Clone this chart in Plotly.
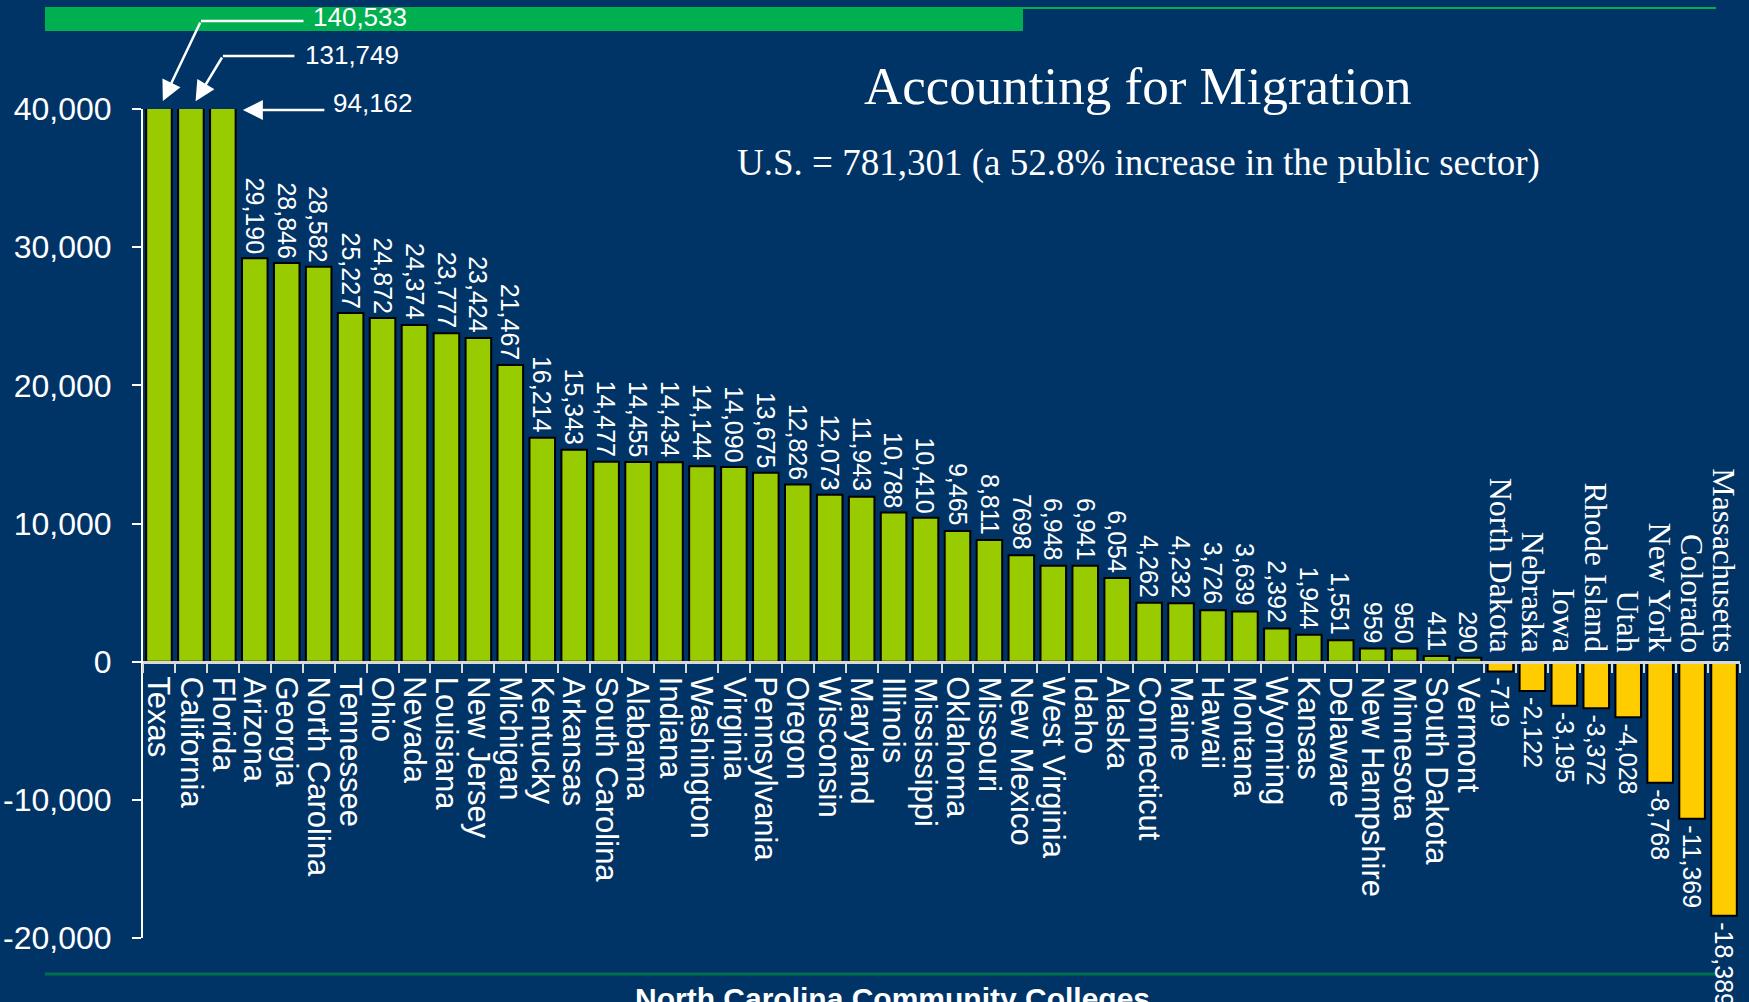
import plotly.graph_objects as go

# data
states = [
    "Texas", "California", "Florida", "Arizona", "Georgia", "North Carolina",
    "Tennessee", "Ohio", "Nevada", "Louisiana", "New Jersey", "Michigan",
    "Kentucky", "Arkansas", "South Carolina", "Alabama", "Indiana", "Washington",
    "Virginia", "Pennsylvania", "Oregon", "Wisconsin", "Maryland", "Illinois",
    "Mississippi", "Oklahoma", "Missouri", "New Mexico", "West Virginia", "Idaho",
    "Alaska", "Connecticut", "Maine", "Hawaii", "Montana", "Wyoming", "Kansas",
    "Delaware", "New Hampshire", "Minnesota", "South Dakota", "Vermont",
    "North Dakota", "Nebraska", "Iowa", "Rhode Island", "Utah", "New York",
    "Colorado", "Massachusetts",
]
growth = [
    140533, 131749, 94162, 29190, 28846, 28582, 25227, 24872, 24374, 23777,
    23424, 21467, 16214, 15343, 14477, 14455, 14434, 14144, 14090, 13675,
    12826, 12073, 11943, 10788, 10410, 9465, 8811, 7698, 6948, 6941,
    6054, 4262, 4232, 3726, 3639, 2392, 1944, 1551, 959, 950,
    411, 290, -719, -2122, -3195, -3372, -4028, -8768, -11369, -18389,
]
growth_labels = [
    "140,533", "131,749", "94,162", "29,190", "28,846", "28,582", "25,227",
    "24,872", "24,374", "23,777", "23,424", "21,467", "16,214", "15,343",
    "14,477", "14,455", "14,434", "14,144", "14,090", "13,675", "12,826",
    "12,073", "11,943", "10,788", "10,410", "9,465", "8,811", "7698", "6,948",
    "6,941", "6,054", "4,262", "4,232", "3,726", "3,639", "2,392", "1,944",
    "1,551", "959", "950", "411", "290", "-719", "-2,122", "-3,195", "-3,372",
    "-4,028", "-8,768", "-11,369", "-18,389",
]
y_ticks = [40000, 30000, 20000, 10000, 0, -10000, -20000]
y_tick_labels = ["40,000", "30,000", "20,000", "10,000", "0", "-10,000", "-20,000"]
y_range = [-20000, 40000]

title = "Accounting for Migration"
subtitle = "U.S. = 781,301 (a 52.8% increase in the public sector)"
footer = "North Carolina Community Colleges"

BG = "#003366"
GREEN = "#99CC00"
GOLD = "#FFCC00"
SANS = "Liberation Sans, Arial, sans-serif"
SERIF = "Liberation Serif, Times New Roman, serif"

W, H = 1749, 1002
L, R, T, B = 143, 9, 109, 64


def paper_x(px):
    return (px - L) / (W - L - R)


def paper_y(py):
    return (H - B - py) / (H - T - B)


colors = [GREEN if v >= 0 else GOLD for v in growth]

fig = go.Figure(
    go.Bar(
        x=states,
        y=growth,
        width=0.8,
        marker=dict(color=colors, line=dict(color="black", width=2)),
        hoverinfo="skip",
    )
)

annotations = []
for s, v, lab in zip(states, growth, growth_labels):
    # state names: sans below the axis, serif above it for the losers
    if v >= 0:
        annotations.append(dict(
            x=s, y=0, text=s, textangle=90, showarrow=False,
            xanchor="center", yanchor="top", yshift=-13,
            font=dict(family=SANS, size=31, color="white"),
        ))
    else:
        annotations.append(dict(
            x=s, y=0, text=s, textangle=90, showarrow=False,
            xanchor="center", yanchor="bottom", yshift=7,
            font=dict(family=SERIF, size=32, color="white"),
        ))
    if v > y_range[1]:
        continue  # off-scale bars get callouts instead
    annotations.append(dict(
        x=s, y=v, text=lab, textangle=90, showarrow=False,
        xanchor="center", yanchor="bottom" if v >= 0 else "top",
        yshift=3 if v >= 0 else -4,
        font=dict(family=SANS, size=25, color="white"),
    ))

# callouts for the bars that run off the top of the scale
# state: (bend dx, bend dy, horizontal run, text dx, text dy)
callouts = {
    "Texas": (42, 88, 104, 152, 92),
    "California": (32, 53, 73, 112, 54),
}
arrow = dict(arrowcolor="white", arrowwidth=2.5, font=dict(size=1), text="")
for s, (bx, by, run, tx, ty) in callouts.items():
    top = y_range[1]
    annotations.append(dict(
        x=s, y=top, xshift=bx, yshift=by, showarrow=True, arrowhead=0,
        ax=run, ay=0, **arrow,
    ))
    annotations.append(dict(
        x=s, y=top, showarrow=True, arrowhead=2, arrowsize=1.6, standoff=9,
        ax=bx, ay=-by, **arrow,
    ))
    annotations.append(dict(
        x=s, y=top, xshift=tx, yshift=ty, xanchor="left", yanchor="middle",
        text=growth_labels[states.index(s)], showarrow=False,
        font=dict(family=SANS, size=26, color="white"),
    ))

annotations.append(dict(
    x="Florida", y=y_range[1], xshift=20, yshift=-1, showarrow=True,
    arrowhead=2, arrowsize=1.6, ax=83, ay=0, **arrow,
))
annotations.append(dict(
    x="Florida", y=y_range[1], xshift=108, yshift=6, xanchor="left",
    yanchor="middle", text=growth_labels[2], showarrow=False,
    font=dict(family=SANS, size=26, color="white"),
))

# slide titles
annotations += [
    dict(xref="paper", yref="paper", x=paper_x(1138), y=paper_y(86),
         text=title, showarrow=False, xanchor="center", yanchor="middle",
         font=dict(family=SERIF, size=53, color="white")),
    dict(xref="paper", yref="paper", x=paper_x(1138), y=paper_y(163),
         text=subtitle, showarrow=False, xanchor="center", yanchor="middle",
         font=dict(family=SERIF, size=37, color="white")),
    dict(xref="paper", yref="paper", x=paper_x(892), y=paper_y(980),
         text="<b>" + footer + "</b>", showarrow=False, xanchor="center",
         yanchor="top", font=dict(family=SANS, size=30, color="white")),
]

shapes = [
    dict(type="rect", xref="paper", yref="paper", x0=paper_x(45), x1=paper_x(1023),
         y0=paper_y(31), y1=paper_y(7), fillcolor="#00B050", line=dict(width=0)),
    dict(type="line", xref="paper", yref="paper", x0=paper_x(1023), x1=paper_x(1716),
         y0=paper_y(8), y1=paper_y(8), line=dict(color="#00B050", width=2)),
    dict(type="line", xref="paper", yref="paper", x0=paper_x(45), x1=paper_x(1716),
         y0=paper_y(974), y1=paper_y(974), line=dict(color="#00704A", width=3)),
]

fig.update_layout(
    width=W,
    height=H,
    margin=dict(l=L, r=R, t=T, b=B, pad=0),
    paper_bgcolor=BG,
    plot_bgcolor=BG,
    showlegend=False,
    annotations=annotations,
    shapes=shapes,
    xaxis=dict(
        range=[-0.5, len(states) - 0.5],
        anchor="free",
        position=(0 - y_range[0]) / (y_range[1] - y_range[0]),
        showline=True, linecolor="#D9D9D9", linewidth=3,
        ticks="outside", tickson="boundaries", ticklen=9, tickwidth=2,
        tickcolor="#D9D9D9", showticklabels=False, showgrid=False,
        zeroline=False, automargin=False,
    ),
    yaxis=dict(
        range=y_range,
        tickvals=y_ticks, ticktext=y_tick_labels,
        showline=True, linecolor="white", linewidth=2,
        ticks="outside", ticklen=9, tickwidth=2, tickcolor="white",
        ticklabelstandoff=14, automargin=False,
        tickfont=dict(family=SANS, size=32, color="white"),
        showgrid=False, zeroline=False,
    ),
)

fig.write_html(
    "out.html",
    config={"displayModeBar": False},
    post_script="document.body.style.margin='0';document.body.style.overflow='hidden';",
)
